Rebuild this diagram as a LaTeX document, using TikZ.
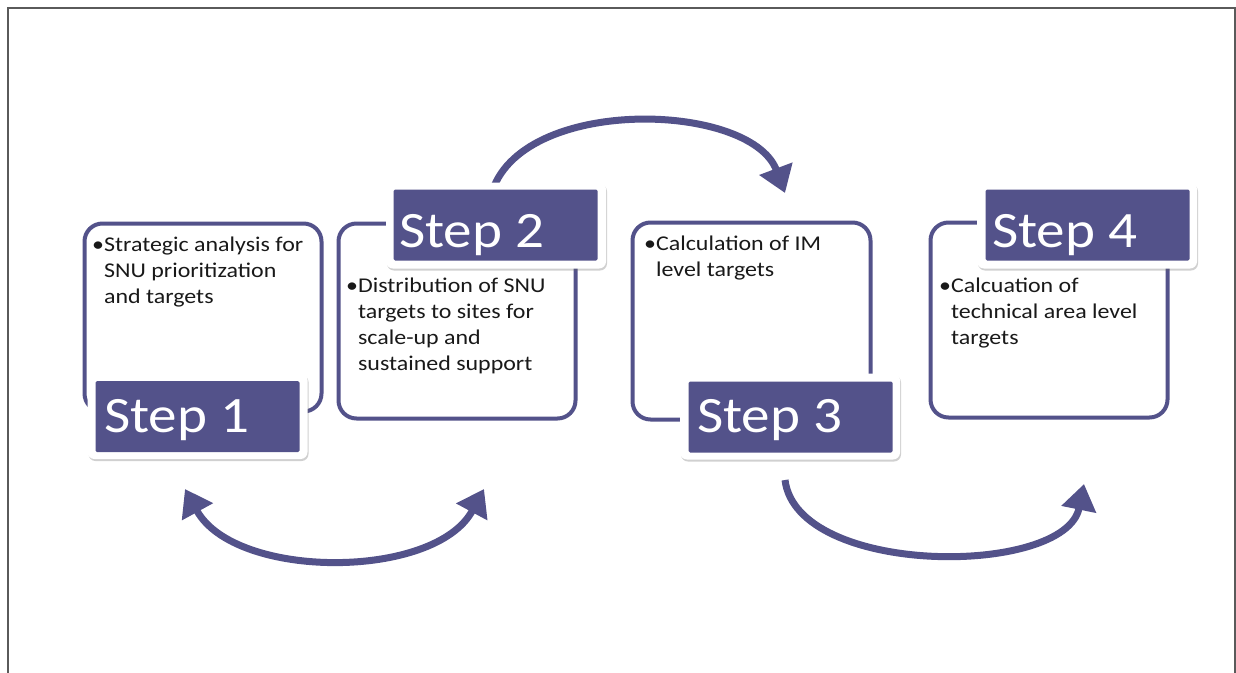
\documentclass[tikz,border=0pt]{standalone}
\usepackage{fontspec}
\setmainfont{Carlito}
\usetikzlibrary{arrows.meta,shadows}
\definecolor{stepc}{RGB}{83,82,138}
\definecolor{framec}{RGB}{90,90,90}
\definecolor{txtc}{RGB}{25,25,25}
\newcommand{\bodytxt}[1]{\scalebox{1.14}[1]{\fontsize{21}{26}\selectfont\begin{tabular}[t]{@{}l@{}}#1\end{tabular}}}
\newcommand{\steptxt}[1]{\scalebox{1.12}[1]{\fontsize{51}{60}\selectfont #1}}
\newcommand{\bl}{\hphantom{\textbullet}}
\tikzset{
  box/.style={draw=stepc, line width=4pt, rounded corners=18pt, fill=white, inner sep=0pt},
  stepouter/.style={fill=white, rounded corners=7pt, inner sep=0pt, minimum width=220pt, minimum height=86pt,
    drop shadow={shadow xshift=1pt, shadow yshift=-2pt, opacity=0.3, fill=black!60}},
  stepinner/.style={fill=stepc, rounded corners=1.5pt, inner sep=0pt, minimum width=204pt, minimum height=71pt},
  steplabel/.style={text=white, inner sep=0pt, anchor=base west},
  bodylabel/.style={text=txtc, inner sep=0pt, anchor=base west},
  conn/.style={draw=stepc, line width=7pt, -{Triangle[length=26pt,width=34pt]}},
  connboth/.style={draw=stepc, line width=7pt, {Triangle[length=26pt,width=34pt]}-{Triangle[length=26pt,width=34pt]}}
}
\begin{document}
\begin{tikzpicture}[x=1pt,y=-1pt]
\useasboundingbox (0,0) rectangle (1236,672);
\fill[white] (0,0) rectangle (1236,672);
% frame
\draw[framec, line width=2.5pt] (8,690) -- (8,8) -- (1235,8) -- (1235,690);

% content boxes
\node[box, minimum width=237pt, minimum height=188pt] (b1) at (203,317.5) {};
\node[box, minimum width=237pt, minimum height=195pt] (b2) at (457,321) {};
\node[box, minimum width=238pt, minimum height=197pt] (b3) at (751.5,321) {};
\node[box, minimum width=237pt, minimum height=195pt] (b4) at (1049,320) {};

% connectors
\coordinate (a1s) at (185,489);
\coordinate (a1e) at (484,489);
\coordinate (a2s) at (490,200);
\coordinate (a2e) at (785,193);
\coordinate (a3s) at (785,480);
\coordinate (a3e) at (1084,484);
\draw[connboth] (a1s) .. controls (235,580) and (435,580) .. (a1e);
\draw[conn] (a2s) .. controls (510,95) and (750,100) .. (a2e);
\draw[conn] (a3s) .. controls (797,577) and (1065,577) .. (a3e);

% step labels
\node[stepouter] (s1o) at (197.5,416) {};
\node[stepinner] (s1) at (197.5,416.5) {};
\node[stepouter] (s2o) at (496,225.5) {};
\node[stepinner] (s2) at (495.5,225) {};
\node[stepouter] (s3o) at (790,416.5) {};
\node[stepinner] (s3) at (790.5,417) {};
\node[stepouter] (s4o) at (1087,225.5) {};
\node[stepinner] (s4) at (1087.5,225) {};

\node[steplabel] (t1) at (104,432) {\steptxt{Step 1}};
\node[steplabel] (t2) at (399,247) {\steptxt{Step 2}};
\node[steplabel] (t3) at (697,432) {\steptxt{Step 3}};
\node[steplabel] (t4) at (992,247) {\steptxt{Step 4}};

% body texts
\node[bodylabel] (x1) at (92,251) {\bodytxt{\textbullet Strategic analysis for\\\bl SNU prioritization\\\bl and targets}};
\node[bodylabel] (x2) at (346,292) {\bodytxt{\textbullet Distribution of SNU\\\bl targets to sites for\\\bl scale-up and\\\bl sustained support}};
\node[bodylabel] (x3) at (644,250) {\bodytxt{\textbullet Calculation of IM\\\bl level targets}};
\node[bodylabel] (x4) at (939,292) {\bodytxt{\textbullet Calcuation of\\\bl technical area level\\\bl targets}};
\end{tikzpicture}
\end{document}
